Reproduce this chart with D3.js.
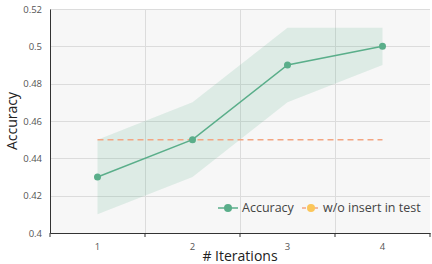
<!DOCTYPE html>
<html>
<head>
<meta charset="utf-8">
<script src="https://cdn.jsdelivr.net/npm/d3@7"></script>
<style>
  body { margin: 0; background: #fff; }
  text { font-family: "Open Sans", "Noto Sans", sans-serif; }
</style>
</head>
<body>
<svg id="chart" width="432" height="264"></svg>
<script>
"use strict";

//data

const iterations = ["1", "2", "3", "4"];
const accuracy = [0.43, 0.45, 0.49, 0.50];
const upper = [0.45, 0.47, 0.51, 0.51];
const lower = [0.41, 0.43, 0.47, 0.49];
const baseline = [0.45, 0.45, 0.45, 0.45];
const yTicks = [0.4, 0.42, 0.44, 0.46, 0.48, 0.5, 0.52];

//colors

const green = "#5aae8a";
const salmon = "#f4a582";

//layout

const margin = { top: 9, right: 2, bottom: 31, left: 50 };
const width = 432 - margin.left - margin.right;
const height = 264 - margin.top - margin.bottom;

const svg = d3.select("#chart");

const g = svg.append("g")
  .attr("transform", `translate(${margin.left}, ${margin.top})`);

//scales

const x = d3.scaleBand()
  .domain(iterations)
  .range([0, width]);

const y = d3.scaleLinear()
  .domain([0.4, 0.52])
  .range([height, 0]);

const cx = (i) => x(iterations[i]) + x.bandwidth() / 2;

//background

g.append("rect")
  .attr("width", width)
  .attr("height", height)
  .attr("fill", "#f7f7f7");

//grid

g.selectAll(".hgrid")
  .data(yTicks)
  .enter()
  .append("line")
  .attr("x1", 0)
  .attr("x2", width)
  .attr("y1", (d) => Math.round(y(d)) + 0.5)
  .attr("y2", (d) => Math.round(y(d)) + 0.5)
  .attr("stroke", "#dcdcdc");

g.selectAll(".vgrid")
  .data(iterations.slice(1))
  .enter()
  .append("line")
  .attr("x1", (d) => Math.round(x(d)) + 0.5)
  .attr("x2", (d) => Math.round(x(d)) + 0.5)
  .attr("y1", 0)
  .attr("y2", height)
  .attr("stroke", "#dcdcdc");

//band

const area = d3.area()
  .x((d, i) => cx(i))
  .y0((d, i) => y(lower[i]))
  .y1((d, i) => y(upper[i]));

g.append("path")
  .attr("d", area(iterations))
  .attr("fill", green)
  .attr("fill-opacity", 0.16);

//baseline

const line = d3.line()
  .x((d, i) => cx(i))
  .y((d) => y(d));

g.append("path")
  .attr("d", line(baseline))
  .attr("fill", "none")
  .attr("stroke", salmon)
  .attr("stroke-width", 1.5)
  .attr("stroke-dasharray", "6,4");

//accuracy

g.append("path")
  .attr("d", line(accuracy))
  .attr("fill", "none")
  .attr("stroke", green)
  .attr("stroke-width", 1.5);

g.selectAll(".pt")
  .data(accuracy)
  .enter()
  .append("circle")
  .attr("cx", (d, i) => cx(i))
  .attr("cy", (d) => y(d))
  .attr("r", 3.5)
  .attr("fill", green);

//axes

const yAxis = g.append("g")
  .call(d3.axisLeft(y).tickValues(yTicks).tickSize(0).tickPadding(8).tickFormat((d) => d3.format("")(+d.toFixed(2))));

yAxis.select(".domain").attr("stroke", "#333");
yAxis.selectAll("text").attr("fill", "#555").style("font-size", "9.5px");

const xAxis = g.append("g")
  .attr("transform", `translate(0, ${height})`)
  .call(d3.axisBottom(x).tickSize(0).tickPadding(10));

xAxis.select(".domain").attr("stroke", "#333");
xAxis.selectAll("text").attr("fill", "#555").style("font-size", "9.5px");

xAxis.selectAll(".sep")
  .data(iterations.concat(["end"]))
  .enter()
  .append("line")
  .attr("x1", (d, i) => i < iterations.length ? x(d) : width)
  .attr("x2", (d, i) => i < iterations.length ? x(d) : width)
  .attr("y1", 0)
  .attr("y2", 4)
  .attr("stroke", "#333");

//titles

svg.append("text")
  .attr("transform", `translate(17, ${margin.top + height / 2}) rotate(-90)`)
  .attr("text-anchor", "middle")
  .attr("fill", "#222")
  .style("font-size", "14px")
  .text("Accuracy");

svg.append("text")
  .attr("x", margin.left + width / 2)
  .attr("y", 261)
  .attr("text-anchor", "middle")
  .attr("fill", "#222")
  .style("font-size", "14px")
  .text("# Iterations");

//legend

const legendItems = [
  { label: "Accuracy", line: green, dot: green, x: 218, w: 20, pad: 24 },
  { label: "w/o insert in test", line: salmon, dot: "#fbc65a", x: 302, w: 18, pad: 21 }
];

const legend = g.append("g")
  .attr("transform", `translate(0, ${208 - margin.top})`);

const item = legend.selectAll(".item")
  .data(legendItems)
  .enter()
  .append("g")
  .attr("transform", (d) => `translate(${d.x - margin.left}, 0)`);

item.append("line")
  .attr("x1", 0)
  .attr("x2", (d) => d.w)
  .attr("stroke", (d) => d.line)
  .attr("stroke-width", 1.5)
  .attr("stroke-dasharray", (d, i) => i ? "4,2" : null);

item.append("circle")
  .attr("cx", (d) => d.w / 2)
  .attr("r", 4)
  .attr("fill", (d) => d.dot);

item.append("text")
  .attr("x", (d) => d.pad)
  .attr("dy", "0.35em")
  .attr("fill", "#444")
  .style("font-size", "12.5px")
  .text((d) => d.label);
</script>
</body>
</html>
